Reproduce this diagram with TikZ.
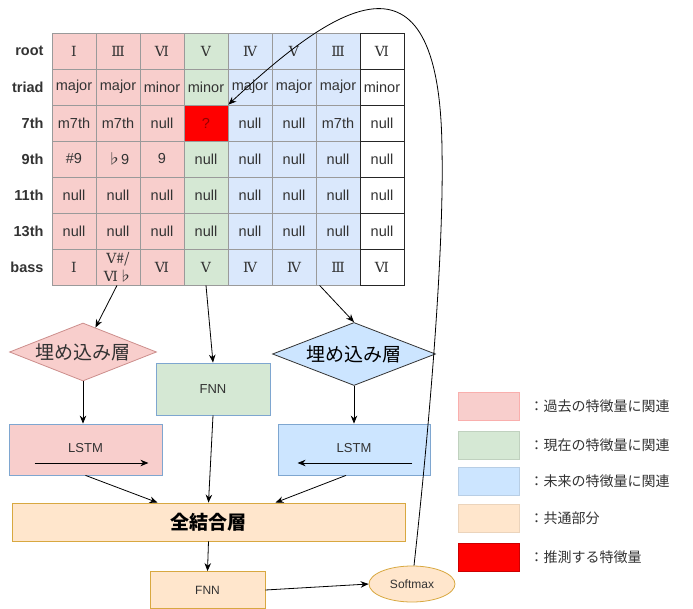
\documentclass[tikz,border=0pt]{standalone}
\usepackage{fontspec}
\setmainfont{Liberation Sans}
\newfontfamily\jp{Noto Sans CJK JP}
\newfontfamily\rmn{DejaVu Serif}
\usetikzlibrary{shapes.geometric,arrows.meta,calc}
\definecolor{pinkF}{HTML}{F8CECC}
\definecolor{pinkD}{HTML}{CC8E8C}
\definecolor{greenF}{HTML}{D5E8D4}
\definecolor{blueF}{HTML}{DAE8FC}
\definecolor{blueL}{HTML}{CCE5FF}
\definecolor{blueD}{HTML}{7EA6D0}
\definecolor{orangeF}{HTML}{FFE6CC}
\definecolor{orangeD}{HTML}{D8A840}
\definecolor{txt}{HTML}{333333}
\definecolor{gridc}{HTML}{9A9A9A}
\newcommand\flatsign{{\jp ♭}}
\tikzset{
  cellbase/.style={rectangle, draw=gridc, line width=0.8pt, minimum width=44pt, minimum height=36pt, inner sep=0pt, text=txt, font=\fontsize{14.5}{15}\selectfont},
  col0/.style={fill=pinkF}, col1/.style={fill=pinkF}, col2/.style={fill=pinkF},
  col3/.style={fill=greenF},
  col4/.style={fill=blueF}, col5/.style={fill=blueF}, col6/.style={fill=blueF},
  col7/.style={fill=white, draw=black!85},
  redcell/.style={fill=red, draw=gridc, text={rgb,255:red,150;green,0;blue,0}},
  romanfont/.style={font=\rmn\fontsize{14}{18}\selectfont},
  rowlab/.style={anchor=east, text=txt, font=\bfseries\fontsize{14.5}{15}\selectfont},
  boxbase/.style={rectangle, line width=0.8pt, inner sep=0pt, text=txt, font=\fontsize{13}{15}\selectfont},
  dia/.style={diamond, aspect=2.5, inner sep=0pt, line width=0.8pt, font=\jp\fontsize{19}{20}\selectfont},
  conn/.style={line width=0.8pt, -{Stealth[length=8pt,width=6.5pt]}},
  legbox/.style={rectangle, minimum width=61pt, minimum height=28pt, inner sep=0pt, line width=0.8pt},
  legtxt/.style={anchor=west, text=txt, font=\jp\fontsize{14}{15}\selectfont}
}
\begin{document}
\begin{tikzpicture}[x=1pt,y=-1pt]
\useasboundingbox (0,0) rectangle (693,609);
% row labels
\foreach \lab [count=\r from 0] in {root,triad,7th,9th,11th,13th,bass}
  \node[rowlab] (lab\r) at (47,{51+36*\r}) {\lab};
% row 0: root
\foreach \t [count=\i from 0] in {Ⅰ,Ⅲ,Ⅵ,Ⅴ,Ⅳ,Ⅴ,Ⅲ,Ⅵ}
  \node[cellbase,col\i,romanfont] (c\i-0) at ({74+44*\i},51) {\t};
% row 1: triad
\foreach \t [count=\i from 0] in {major,major,minor,minor,major,major,major,minor}
  \node[cellbase,col\i] (c\i-1) at ({74+44*\i},87) {\t};
% row 2: 7th
\foreach \i/\t in {0/m7th,1/m7th,2/null,4/null,5/null,6/m7th,7/null}
  \node[cellbase,col\i] (c\i-2) at ({74+44*\i},123) {\t};
\node[cellbase,redcell] (c3-2) at ({74+44*3},123) {?};
% row 3: 9th
\foreach \t [count=\i from 0] in {\#9,\flatsign 9,9,null,null,null,null,null}
  \node[cellbase,col\i] (c\i-3) at ({74+44*\i},159) {\t};
% row 4: 11th
\foreach \i in {0,...,7}
  \node[cellbase,col\i] (c\i-4) at ({74+44*\i},195) {null};
% row 5: 13th
\foreach \i in {0,...,7}
  \node[cellbase,col\i] (c\i-5) at ({74+44*\i},231) {null};
% row 6: bass
\foreach \t [count=\i from 0] in {Ⅰ,{Ⅴ{\jp\#/}\\Ⅵ{\jp ♭}},Ⅵ,Ⅴ,Ⅳ,Ⅳ,Ⅲ,Ⅵ}
  \node[cellbase,col\i,romanfont,align=center] (c\i-6) at ({74+44*\i},267) {\t};

% middle layer
\node[dia, fill=pinkF, draw=pinkD, text=txt, minimum width=147pt, minimum height=58pt] (ldia) at (83,352) {埋め込み層};
\node[dia, fill=blueL, draw=black!80, text=black, minimum width=163pt, minimum height=63pt] (rdia) at (354,354) {埋め込み層};
\node[boxbase, fill=greenF, draw=blueD, minimum width=114pt, minimum height=52pt] (fnn1) at (213,389) {FNN};
\node[boxbase, fill=pinkF, draw=blueD, minimum width=153pt, minimum height=51pt] (lstm1) at (85.5,449.5) {\raisebox{3pt}{LSTM}};
\node[boxbase, fill=blueL, draw=blueD, minimum width=152pt, minimum height=51pt] (lstm2) at (354,449.5) {\raisebox{3pt}{LSTM}};
\draw[conn] ($(lstm1.west)+(26,13.5)$) coordinate (la1) -- ($(lstm1.east)+(-14,13.5)$) coordinate (la2);
\draw[conn] ($(lstm2.east)+(-18,13.5)$) coordinate (ra1) -- ($(lstm2.west)+(20,13.5)$) coordinate (ra2);

\node[boxbase, fill=orangeF, draw=orangeD, minimum width=393pt, minimum height=38pt, font=\jp\bfseries\fontsize{19}{20}\selectfont, text=black] (fc) at (208.5,522) {全結合層};
\node[boxbase, fill=orangeF, draw=orangeD, minimum width=115pt, minimum height=37pt, font=\fontsize{12}{14}\selectfont] (fnn2) at (207.5,590) {FNN};
\node[ellipse, fill=orangeF, draw=orangeD, line width=0.8pt, minimum width=86pt, minimum height=36pt, inner sep=0pt, text=txt, font=\fontsize{12}{14}\selectfont] (soft) at (412,584) {Softmax};

% connectors
\draw[conn] ($(c1-6.south)+(-1,0)$) -- (ldia);
\draw[conn] (c3-6.south) -- (fnn1.north);
\draw[conn] ($(c6-6.south west)+(4,0)$) -- (rdia.north);
\draw[conn] (ldia.south) -- (ldia.south |- lstm1.north);
\draw[conn] (rdia.south) -- (rdia.south |- lstm2.north);
\draw[conn] (lstm1.south) -- ($(fc.north)+(-51,0)$);
\draw[conn] (fnn1.south) -- ($(fc.north)+(0,0)$);
\draw[conn] ($(lstm2.south)+(-8,0)$) -- ($(fc.north)+(67,0)$);
\draw[conn] (fc.south) -- (fnn2.north);
\draw[conn] (fnn2.east) -- (soft.west);
\coordinate (bend) at (442,150);
\draw[conn] ($(soft.north)+(2,0)$) .. controls (430,420) and (444,250) .. (bend)
  .. controls (440,-70) and (330,10) .. (c3-2.north east);

% legend
\node[legbox, fill=pinkF, draw=pinkF!85!red] (lg1) at (488.5,406) {};
\node[legbox, fill=greenF, draw=greenF!90!black] (lg2) at (488.5,445) {};
\node[legbox, fill=blueL, draw=blueL!90!black] (lg3) at (488.5,481) {};
\node[legbox, fill=orangeF, draw=orangeF!92!black] (lg4) at (488.5,518) {};
\node[legbox, fill=red, draw=red!80!black] (lg5) at (488.5,557) {};
\node[legtxt] (lt1) at (526,406) {：過去の特徴量に関連};
\node[legtxt] (lt2) at (526,445) {：現在の特徴量に関連};
\node[legtxt] (lt3) at (526,481) {：未来の特徴量に関連};
\node[legtxt] (lt4) at (526,518) {：共通部分};
\node[legtxt] (lt5) at (526,557) {：推測する特徴量};
\end{tikzpicture}
\end{document}
